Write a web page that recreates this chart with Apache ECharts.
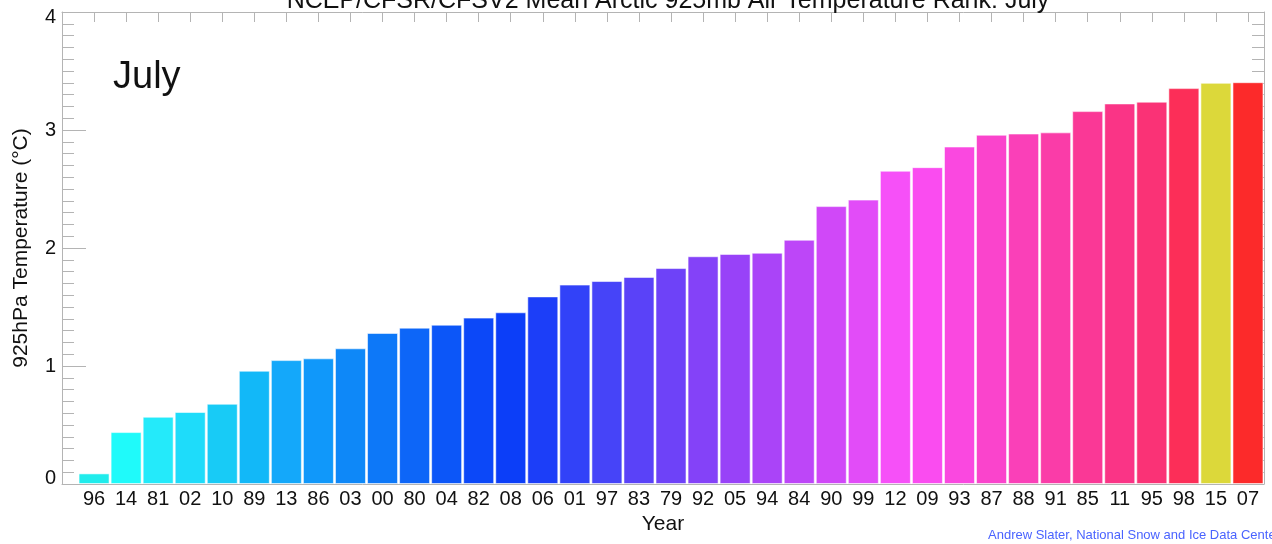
<!DOCTYPE html>
<html>
<head>
<meta charset="utf-8">
<script src="https://cdn.jsdelivr.net/npm/echarts@6/dist/echarts.min.js"></script>
<style>
html,body{margin:0;padding:0;background:#fff;}
#chart{width:1272px;height:544px;}
</style>
</head>
<body>
<div id="chart"></div>
<script>
// ---- data ----
const years = ['96','14','81','02','10','89','13','86','03','00','80','04','82','08','06','01','97','83','79','92','05','94','84','90','99','12','09','93','87','88','91','85','11','95','98','15','07'];
const temps = [0.09,0.44,0.57,0.61,0.68,0.96,1.05,1.065,1.15,1.28,1.325,1.35,1.41,1.455,1.59,1.69,1.72,1.755,1.83,1.93,1.95,1.96,2.07,2.355,2.41,2.655,2.685,2.86,2.96,2.97,2.98,3.16,3.225,3.24,3.355,3.40,3.405];
const yTicks = [0,1,2,3,4];
const titleText = 'NCEP/CFSR/CFSV2 Mean Arctic 925mb Air Temperature Rank: July';
const monthLabel = 'July';
const yName = '925hPa Temperature (\u00B0C)';
const xName = 'Year';
const credit = 'Andrew Slater, National Snow and Ice Data Center';

// ---- styles ----
const barColors = ['#20ecec','#1ffafa','#24eafa','#1edcfa','#18cbf6','#12b8f8','#14a8fa','#1098fa','#0e88f8','#0d78f8','#0d66f8','#0c56f8','#0c48f8','#0c3ef8','#1c3ef8','#3242f8','#4644f8','#5a42f8','#6e42f8','#8442f8','#9842f8','#aa44f8','#bd46f8','#d048f8','#e24cf8','#f650f8','#fa4cf0','#fa48e0','#fa44cc','#fa40b8','#fa3ca8','#fa3896','#fa3486','#fa3276','#fc2e58','#dcd83a','#fc2a2a'];
const FONT = '"Liberation Sans", Arial, sans-serif';
const AX = '#b4b4b4';

const seriesData = temps.map((v, i) => ({ value: [i + 1, v], itemStyle: { color: barColors[i] } }));
const yMin = yTicks[0], yMax = yTicks[yTicks.length - 1];

const chart = echarts.init(document.getElementById('chart'), null, { renderer: 'canvas' });
const lblStyle = { fontFamily: FONT, fontSize: 20, color: '#111' };
chart.setOption({
  animation: false,
  title: {
    text: titleText, left: 663, top: -16, textAlign: 'center',
    textStyle: { fontFamily: FONT, fontSize: 25, fontWeight: 'normal', color: '#111' }
  },
  grid: { left: 62, right: 8, top: 12, bottom: 60, containLabel: false },
  xAxis: [{
    type: 'value', min: 0, max: 37.5, interval: 1, position: 'bottom',
    name: xName, nameLocation: 'middle', nameGap: 30,
    nameTextStyle: { fontFamily: FONT, fontSize: 21, color: '#111' },
    axisLine: { show: true, onZero: false, lineStyle: { color: AX } },
    axisTick: { show: false },
    splitLine: { show: false },
    axisLabel: Object.assign({}, lblStyle, {
      margin: 5,
      formatter: v => (Number.isInteger(v) && v >= 1 && v <= years.length) ? years[v - 1] : ''
    })
  }, {
    type: 'value', min: 0, max: 37.5, interval: 1, position: 'top',
    axisLine: { show: true, onZero: false, lineStyle: { color: AX } },
    axisTick: { show: true, inside: true, length: 10, lineStyle: { color: AX } },
    axisLabel: { show: false },
    splitLine: { show: false }
  }],
  yAxis: [{
    type: 'value', min: yMin, max: yMax, interval: 1, position: 'left',
    name: yName, nameLocation: 'middle', nameGap: 30,
    nameTextStyle: { fontFamily: FONT, fontSize: 21, color: '#111' },
    axisLine: { show: true, onZero: false, lineStyle: { color: AX } },
    axisTick: { show: true, inside: true, length: 24, lineStyle: { color: AX } },
    minorTick: { show: true, splitNumber: 10, length: 12, lineStyle: { color: AX } },
    splitLine: { show: false },
    axisLabel: Object.assign({}, lblStyle, {
      margin: 6,
      formatter: v => v === yMin ? '{lo|' + v + '}' : (v === yMax ? '{hi|' + v + '}' : String(v)),
      rich: {
        lo: Object.assign({}, lblStyle, { padding: [0, 0, 12, 0] }),
        hi: Object.assign({}, lblStyle, { padding: [10, 0, 0, 0] })
      }
    })
  }, {
    type: 'value', min: yMin, max: yMax, interval: 1, position: 'right',
    axisLine: { show: true, onZero: false, lineStyle: { color: AX } },
    axisTick: { show: true, inside: true, length: 24, lineStyle: { color: AX } },
    minorTick: { show: true, splitNumber: 10, length: 12, lineStyle: { color: AX } },
    splitLine: { show: false },
    axisLabel: { show: false }
  }],
  graphic: [{
    type: 'text', left: 113, top: 59,
    style: { text: monthLabel, font: '38px ' + FONT, fill: '#111' }
  }, {
    type: 'text', left: 988, top: 529,
    style: { text: credit, font: '13px ' + FONT, fill: '#4a63ff' }
  }],
  series: [{
    type: 'bar', xAxisIndex: 0, yAxisIndex: 0,
    data: seriesData, barWidth: 31,
    itemStyle: { borderColor: 'rgba(255,255,255,0.55)', borderWidth: 1 }
  }]
});
</script>
</body>
</html>
